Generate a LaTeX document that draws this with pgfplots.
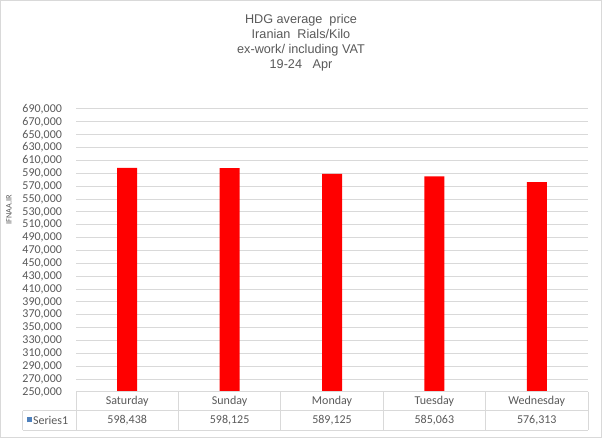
\documentclass[border=0pt]{standalone}
\usepackage{fontspec}
\setmainfont{Carlito}
\newfontfamily\titlefont{Liberation Sans}
\usepackage{pgfplots}
\pgfplotsset{compat=1.18}

\definecolor{txtgray}{HTML}{595959}
\definecolor{gridgray}{HTML}{D9D9D9}
\definecolor{seriesblue}{HTML}{4F81BD}

\begin{document}
\begin{tikzpicture}
\useasboundingbox (0,0) rectangle (451.5pt,328.5pt);
\draw[gridgray, line width=0.75pt] (0.375pt,0.375pt) rectangle (451.125pt,328.125pt);

% title
\node[align=center, text=txtgray, font=\titlefont\fontsize{9.5}{11.25}\selectfont]
  at (225.75pt,296.8pt) {HDG average~ price\\Iranian~ Rials/Kilo\\ex-work/ including VAT\\19-24~~ Apr};

% y label
\node[rotate=90, text=txtgray, font=\fontsize{6.2}{7}\selectfont] at (6.75pt,171pt) {IFNAA.IR};

\begin{axis}[
  at={(57pt,34.5pt)}, anchor=south west,
  scale only axis,
  width=384pt, height=212.25pt,
  ybar, bar width=15pt,
  xmin=-0.5, xmax=4.5,
  ymin=250000, ymax=690000,
  xtick=data,
  xticklabels={Saturday,Sunday,Monday,Tuesday,Wednesday},
  ytick={250000,270000,...,690000},
  scaled y ticks=false,
  ticklabel style={font=\fontsize{9}{10}\selectfont, text=txtgray},
  yticklabel style={anchor=east, xshift=-7pt},
  xticklabel style={anchor=center, yshift=-7.3pt},
  major tick length=0pt,
  ymajorgrids,
  grid style={gridgray, line width=0.75pt},
  axis line style={draw=none},
  clip mode=individual,
  /pgf/number format/fixed,
  /pgf/number format/precision=0,
  /pgf/number format/1000 sep={,},
  /pgf/number format/assume math mode=true,
]
\addplot[fill=red, draw=none] coordinates {
  (0,598438) (1,598125) (2,589125) (3,585063) (4,576313)
};

% data table
\draw[gridgray, line width=0.75pt] (rel axis cs:0,0) -- (rel axis cs:1,0);
\draw[gridgray, line width=0.75pt] ([shift={(-39.75pt,-14pt)}]rel axis cs:0,0) -- ([yshift=-14pt]rel axis cs:1,0);
\draw[gridgray, line width=0.75pt] ([shift={(-39.75pt,-28.5pt)}]rel axis cs:0,0) -- ([yshift=-28.5pt]rel axis cs:1,0);
\draw[gridgray, line width=0.75pt] ([shift={(-39.75pt,-14pt)}]rel axis cs:0,0) -- ([shift={(-39.75pt,-28.5pt)}]rel axis cs:0,0);
\pgfplotsinvokeforeach{-0.5,0.5,1.5,2.5,3.5,4.5}{
  \draw[gridgray, line width=0.75pt] (axis cs:#1,250000) -- ([yshift=-28.5pt]axis cs:#1,250000);
}
\node[anchor=west, inner sep=0pt, text=txtgray, font=\fontsize{9}{10}\selectfont]
  at ([shift={(-37pt,-21pt)}]rel axis cs:0,0) {\textcolor{seriesblue}{\raisebox{1.2pt}{\rule{4pt}{4pt}}}\kern0.6pt Series1};
\node[text=txtgray, font=\fontsize{9}{10}\selectfont] at ([yshift=-21pt]axis cs:0,250000) {598,438};
\node[text=txtgray, font=\fontsize{9}{10}\selectfont] at ([yshift=-21pt]axis cs:1,250000) {598,125};
\node[text=txtgray, font=\fontsize{9}{10}\selectfont] at ([yshift=-21pt]axis cs:2,250000) {589,125};
\node[text=txtgray, font=\fontsize{9}{10}\selectfont] at ([yshift=-21pt]axis cs:3,250000) {585,063};
\node[text=txtgray, font=\fontsize{9}{10}\selectfont] at ([yshift=-21pt]axis cs:4,250000) {576,313};
\end{axis}
\end{tikzpicture}
\end{document}
